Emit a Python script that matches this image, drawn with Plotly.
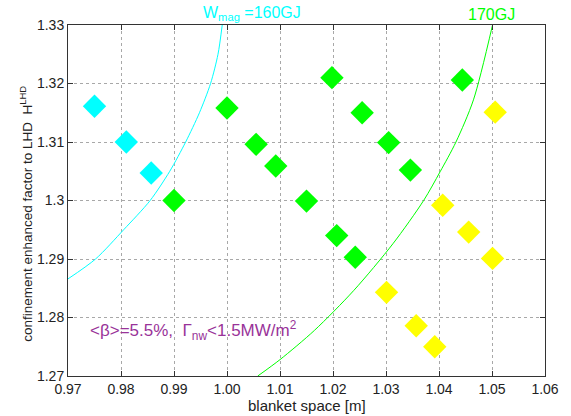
import plotly.graph_objects as go

# Data
cyan_x = [0.975, 0.981, 0.9857]
cyan_y = [1.3161, 1.3100, 1.3047]
green_x = [0.990, 1.000, 1.0055, 1.0092, 1.015, 1.0207, 1.0242, 1.0198, 1.0255, 1.0305, 1.0346, 1.0444]
green_y = [1.3000, 1.3158, 1.3096, 1.3059, 1.2999, 1.2940, 1.2903, 1.3210, 1.3150, 1.3099, 1.3052, 1.3206]
yellow_x = [1.0506, 1.0407, 1.0456, 1.0501, 1.0301, 1.0357, 1.0392]
yellow_y = [1.3151, 1.2992, 1.2946, 1.2901, 1.2843, 1.2786, 1.2750]

# Constant W_mag curves
w160_x = [0.9700, 0.9752, 0.9805, 0.9855, 0.9892, 0.9922, 0.9948, 0.9969, 0.9983, 0.9991]
w160_y = [1.2866, 1.2900, 1.2950, 1.3000, 1.3050, 1.3100, 1.3150, 1.3200, 1.3250, 1.3300]
w170_x = [1.0058, 1.0100, 1.0165, 1.0239, 1.0313, 1.0371, 1.0402, 1.0432, 1.0465, 1.0501]
w170_y = [1.2700, 1.2728, 1.2778, 1.2846, 1.2926, 1.3000, 1.3049, 1.3100, 1.3172, 1.3300]

x_ticks = [0.97, 0.98, 0.99, 1.00, 1.01, 1.02, 1.03, 1.04, 1.05, 1.06]
x_ticktext = ["0.97", "0.98", "0.99", "1.00", "1.01", "1.02", "1.03", "1.04", "1.05", "1.06"]
y_ticks = [1.27, 1.28, 1.29, 1.30, 1.31, 1.32, 1.33]
y_ticktext = ["1.27", "1.28", "1.29", "1.3", "1.31", "1.32", "1.33"]

CYAN = "#00FFFF"
GREEN = "#00FF00"
YELLOW = "#FFFF00"
PURPLE = "#993399"
TXT = "#222222"
FONT = "Liberation Sans, Arial, sans-serif"

fig = go.Figure()
fig.add_trace(go.Scatter(x=w160_x, y=w160_y, mode="lines", line=dict(color=CYAN, width=1, shape="spline", smoothing=0.8), hoverinfo="skip"))
fig.add_trace(go.Scatter(x=w170_x, y=w170_y, mode="lines", line=dict(color=GREEN, width=1, shape="spline", smoothing=0.8), hoverinfo="skip"))
mk = dict(symbol="diamond", size=18, line=dict(width=0))
fig.add_trace(go.Scatter(x=cyan_x, y=cyan_y, mode="markers", marker=dict(color=CYAN, **mk)))
fig.add_trace(go.Scatter(x=green_x, y=green_y, mode="markers", marker=dict(color=GREEN, **mk)))
fig.add_trace(go.Scatter(x=yellow_x, y=yellow_y, mode="markers", marker=dict(color=YELLOW, **mk)))

axis_common = dict(
    showline=True, linecolor="#333333", linewidth=1, mirror="ticks",
    ticks="inside", ticklen=5, tickcolor="#333333",
    showgrid=True, gridcolor="#a8a8a8", griddash="dot", gridwidth=1,
    zeroline=False, tickfont=dict(size=14, color=TXT, family=FONT),
)
fig.update_xaxes(range=[0.97, 1.06], tickvals=x_ticks, ticktext=x_ticktext, **axis_common)
fig.update_yaxes(range=[1.27, 1.33], tickvals=y_ticks, ticktext=y_ticktext, **axis_common)

# axis titles
fig.add_annotation(x=0.5, y=0, xref="paper", yref="paper", yshift=-19, xanchor="center", yanchor="top",
                   text="blanket space [m]", showarrow=False, font=dict(size=15, color=TXT, family=FONT))
fig.add_annotation(x=0, y=0.462, xref="paper", yref="paper", xshift=-31, xanchor="right", yanchor="middle",
                   textangle=-90, text="confinement enhanced factor to LHD  H<sup>LHD</sup>", showarrow=False,
                   font=dict(size=13.5, color=TXT, family=FONT))

fig.add_annotation(x=0.9950, y=1.0, xref="x", yref="paper", xanchor="left", yanchor="bottom",
                   text="W<sub>mag</sub> =160GJ", showarrow=False, font=dict(size=16, color=CYAN, family=FONT))
fig.add_annotation(x=1.0451, y=1.0, xref="x", yref="paper", xanchor="left", yanchor="bottom",
                   text="170GJ", showarrow=False, font=dict(size=16, color=GREEN, family=FONT))
fig.add_annotation(x=0.9737, y=1.2778, xref="x", yref="y", xanchor="left", yanchor="middle",
                   text="&lt;β&gt;=5.5%,  Γ<sub>nw</sub>&lt;1.5MW/m<sup>2</sup>", showarrow=False,
                   font=dict(size=17, color=PURPLE, family=FONT))

fig.update_layout(
    width=571, height=416,
    margin=dict(l=68, r=15, t=25, b=40),
    paper_bgcolor="white", plot_bgcolor="white",
    showlegend=False,
    font=dict(family=FONT),
)

fig.write_html("out.html")
